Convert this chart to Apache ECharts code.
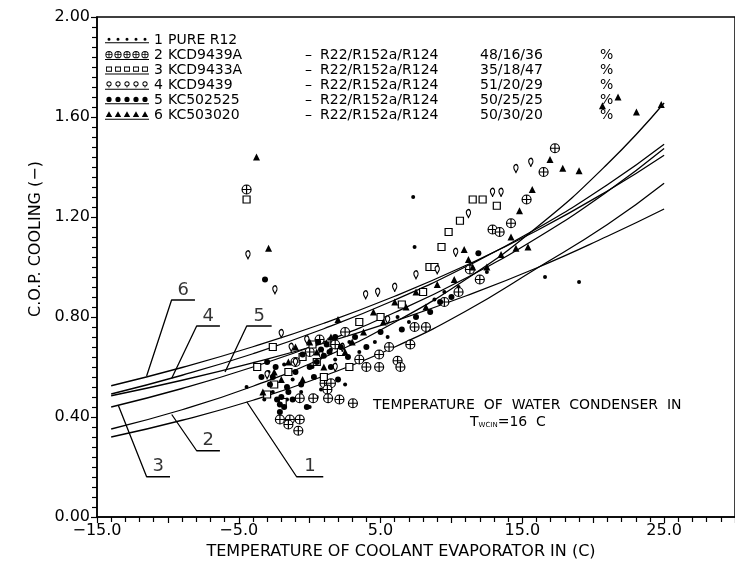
<!DOCTYPE html>
<html>
<head>
<meta charset="utf-8">
<script src="https://cdn.jsdelivr.net/npm/echarts@6/dist/echarts.min.js"></script>
<style>html,body{margin:0;background:#fff}#main{width:735px;height:568px}</style>
</head>
<body>
<div id="main"></div>
<script>
var myChart = echarts.init(document.getElementById('main'));

// fitted curves, read at these evaporator temperatures
var fitT = [-14, -9, -4, 1, 6, 11, 16, 21, 25];
var fit6 = [0.525, 0.598, 0.681, 0.775, 0.883, 1.006, 1.145, 1.304, 1.447];
var fit4 = [0.492, 0.567, 0.653, 0.753, 0.868, 1.001, 1.153, 1.329, 1.491];
var fit5 = [0.485, 0.547, 0.617, 0.695, 0.784, 0.884, 0.996, 1.123, 1.232];
var fit3 = [0.440, 0.514, 0.600, 0.700, 0.818, 0.955, 1.115, 1.302, 1.474];
var fit2 = [0.352, 0.429, 0.523, 0.638, 0.779, 0.950, 1.158, 1.412, 1.656];
var fit1 = [0.320, 0.387, 0.467, 0.564, 0.680, 0.823, 0.994, 1.170, 1.335];

// measured points [t evaporator, cop]
var r12Pts = [[-4.45,0.52],[2.5,0.53],[7.3,1.28],[7.4,1.08],[16.6,0.96],[19.0,0.94],[0.0,0.44],[-2.6,0.5],[-1.2,0.55],[0.2,0.6],[1.8,0.63],[3.5,0.66],[5.5,0.72],[7.0,0.78],[8.8,0.87],[10.5,0.92],[-3.2,0.47],[0.8,0.51],[-1.8,0.61],[4.6,0.7],[12.5,0.98],[-0.6,0.5],[-2.9,0.58],[-1.6,0.47],[0.5,0.48],[1.5,0.67],[2.8,0.7],[6.2,0.8],[9.5,0.9]];
var kcd9439aPts = [[-4.45,1.31],[17.3,1.475],[16.5,1.38],[15.3,1.27],[14.2,1.175],[12.9,1.15],[13.4,1.14],[11.3,0.99],[8.2,0.76],[7.4,0.76],[7.1,0.69],[6.2,0.625],[6.4,0.6],[4.0,0.6],[4.9,0.6],[4.9,0.65],[5.6,0.68],[1.05,0.535],[1.5,0.535],[1.25,0.51],[-0.7,0.475],[0.25,0.475],[1.3,0.475],[2.1,0.47],[3.05,0.455],[-2.1,0.39],[-1.4,0.39],[-0.7,0.39],[-0.8,0.345],[-1.5,0.37],[1.5,0.7],[2.5,0.74],[0.0,0.66],[-1.0,0.62],[9.5,0.86],[10.5,0.9],[12.0,0.95],[0.7,0.71],[1.8,0.69],[3.5,0.63]];
var kcd9433aPts = [[-4.45,1.27],[11.5,1.27],[12.2,1.27],[13.2,1.245],[10.6,1.185],[9.8,1.14],[9.3,1.08],[8.45,1.0],[8.8,1.0],[3.5,0.78],[5.0,0.8],[6.5,0.85],[2.2,0.66],[0.5,0.62],[-1.5,0.58],[-2.5,0.53],[-3.0,0.49],[-0.5,0.64],[1.0,0.56],[-2.6,0.68],[-3.7,0.6],[0.2,0.69],[2.8,0.6],[8.0,0.9],[-1.9,0.46]];
var kcd9439Pts = [[-4.35,1.03],[-2.45,0.89],[14.55,1.375],[15.6,1.4],[12.9,1.28],[13.5,1.28],[11.2,1.195],[10.3,1.04],[3.95,0.87],[-2.0,0.715],[4.8,0.88],[6.0,0.9],[7.5,0.95],[9.0,0.97],[2.3,0.66],[0.8,0.63],[-1.0,0.6],[-3.0,0.55],[1.8,0.58],[5.5,0.77],[-0.2,0.69],[-1.3,0.66]];
var kc502525Pts = [[-3.15,0.95],[11.9,1.055],[-2.1,0.45],[-2.1,0.42],[-2.0,0.48],[-1.5,0.5],[-2.8,0.53],[-3.4,0.56],[-1.0,0.58],[0.5,0.62],[1.0,0.645],[0.8,0.67],[1.5,0.6],[2.7,0.64],[-0.2,0.44],[4.0,0.68],[6.5,0.75],[8.5,0.82],[10.0,0.88],[-1.6,0.52],[0.3,0.56],[1.2,0.69],[-2.4,0.6],[-0.6,0.53],[2.0,0.55],[-2.3,0.47],[-1.8,0.44],[-1.2,0.47],[-2.6,0.56],[-3.0,0.62],[0.0,0.6],[0.6,0.7],[1.4,0.66],[2.2,0.68],[1.8,0.72],[3.2,0.72],[-0.5,0.65],[5.0,0.74],[7.5,0.8],[9.2,0.86]];
var kc503020Pts = [[-3.75,1.44],[-2.9,1.075],[20.65,1.645],[21.75,1.68],[23.05,1.62],[24.8,1.65],[16.95,1.43],[17.85,1.395],[19.0,1.385],[15.7,1.31],[14.8,1.225],[14.2,1.12],[10.9,1.07],[11.2,1.03],[14.55,1.075],[15.4,1.08],[2.0,0.79],[4.5,0.82],[6.0,0.86],[7.5,0.9],[9.0,0.93],[12.5,1.0],[13.5,1.05],[5.2,0.78],[8.2,0.84],[-1.5,0.62],[0.5,0.66],[1.5,0.72],[-2.5,0.58],[3.0,0.7],[-0.5,0.55],[-2.0,0.55],[-1.0,0.68],[0.0,0.7],[1.0,0.6],[2.5,0.66],[3.8,0.74],[6.8,0.84],[10.2,0.95],[11.5,1.0],[-3.3,0.5]];

var refNames = ['PURE R12', 'KCD9439A', 'KCD9433A', 'KCD9439', 'KC502525', 'KC503020'];
var mixText = ['', 'R22/R152a/R124', 'R22/R152a/R124', 'R22/R152a/R124', 'R22/R152a/R124', 'R22/R152a/R124'];
var mixShare = ['', '48/16/36', '35/18/47', '51/20/29', '50/25/25', '50/30/20'];

// leader lines: [end on curve, elbow, end of underline], label number
var leaderNums = ['6', '4', '5', '3', '2', '1'];
var leaders = [
  [[-11.5, 0.564], [-9.74, 0.868], [-8.09, 0.868]],
  [[-9.73, 0.555], [-7.97, 0.764], [-6.33, 0.764]],
  [[-5.97, 0.58], [-4.44, 0.764], [-2.68, 0.764]],
  [[-13.5, 0.447], [-11.5, 0.161], [-9.85, 0.161]],
  [[-9.73, 0.41], [-7.97, 0.265], [-6.33, 0.265]],
  [[-4.44, 0.461], [-0.92, 0.161], [0.96, 0.161]]
];

var xTicks = [-15, -5, 5, 15, 25];

var FONT = 'DejaVu Sans';

function circ(cx, cy, r, rev) {
  var s = rev ? 0 : 1;
  return 'M' + (cx - r) + ',' + cy + 'A' + r + ',' + r + ',0,1,' + s + ',' + (cx + r) + ',' + cy +
    'A' + r + ',' + r + ',0,1,' + s + ',' + (cx - r) + ',' + cy + 'Z';
}
function box(x0, y0, x1, y1, rev) {
  return rev ? 'M' + x0 + ',' + y0 + 'L' + x0 + ',' + y1 + 'L' + x1 + ',' + y1 + 'L' + x1 + ',' + y0 + 'Z'
             : 'M' + x0 + ',' + y0 + 'L' + x1 + ',' + y0 + 'L' + x1 + ',' + y1 + 'L' + x0 + ',' + y1 + 'Z';
}
// legend swatch: a row of five markers over a base line
function rowIcon(kind) {
  var p = box(0, 9, 44, 9.9);
  for (var i = 0; i < 5; i++) {
    var cx = 4 + i * 9, cy = 4.6;
    if (kind === 'dot') p += circ(cx, cy + 1.5, 1.5);
    else if (kind === 'disc') p += circ(cx, cy + 0.6, 2.6);
    else if (kind === 'oplus') p += circ(cx, cy, 3.6) + circ(cx, cy, 2.7, true) + box(cx - 3, cy - 0.4, cx + 3, cy + 0.4) + box(cx - 0.4, cy - 3, cx + 0.4, cy + 3);
    else if (kind === 'square') p += box(cx - 3, cy - 2.6, cx + 3, cy + 2.6) + box(cx - 2.1, cy - 1.7, cx + 2.1, cy + 1.7, true);
    else if (kind === 'pin') p += circ(cx, cy - 0.6, 2.6) + circ(cx, cy - 0.6, 1.7, true) + 'M' + (cx - 0.6) + ',' + (cy + 1.8) + 'L' + (cx + 0.6) + ',' + (cy + 1.8) + 'L' + cx + ',' + (cy + 4) + 'Z';
    else if (kind === 'tri') p += 'M' + cx + ',' + (cy - 3) + 'L' + (cx + 3.2) + ',' + (cy + 2.6) + 'L' + (cx - 3.2) + ',' + (cy + 2.6) + 'Z';
  }
  return 'path://' + p;
}
var iconKinds = ['dot', 'oplus', 'square', 'pin', 'disc', 'tri'];

var oplus = 'path://M-1,0A1,1,0,1,1,1,0A1,1,0,1,1,-1,0ZM-1,0L1,0M0,-1L0,1';

var ptSets = [r12Pts, kcd9439aPts, kcd9433aPts, kcd9439Pts, kc502525Pts, kc503020Pts];
var symbols = ['circle', oplus, 'rect', 'pin', 'circle', 'triangle'];
var sizes = [4, 9, 7, [7, 10], 6, 7];
var hollow = [false, true, true, true, false, false];

var series = [];
ptSets.forEach(function (pts, i) {
  series.push({
    name: refNames[i],
    type: 'scatter',
    data: pts,
    symbol: symbols[i],
    symbolSize: sizes[i],
    itemStyle: hollow[i]
      ? { color: '#fff', borderColor: '#000', borderWidth: 1.2, opacity: 1 }
      : { color: '#000', borderWidth: 0, opacity: 1 },
    z: 3
  });
});

[fit1, fit2, fit3, fit4, fit5, fit6].forEach(function (ys) {
  series.push({
    type: 'line',
    data: fitT.map(function (t, k) { return [t, ys[k]]; }),
    smooth: 0.5,
    showSymbol: false,
    silent: true,
    lineStyle: { color: '#000', width: 1.3 },
    z: 2
  });
});

leaders.forEach(function (pts, i) {
  series.push({
    type: 'line',
    data: pts,
    showSymbol: false,
    silent: true,
    lineStyle: { color: '#000', width: 1.3 },
    z: 2
  });
});

series.push({
  type: 'scatter',
  silent: true,
  symbolSize: 0,
  data: leaders.map(function (pts, i) {
    return {
      value: [(pts[1][0] + pts[2][0]) / 2, pts[1][1]],
      label: { show: true, formatter: leaderNums[i] }
    };
  }),
  label: { position: 'top', distance: 1, color: '#000', fontSize: 18, fontFamily: FONT }
});

option = {
  animation: false,
  backgroundColor: '#fff',
  grid: {
    left: 97, right: -2, top: 17, bottom: 51,
    show: true, borderColor: '#000', borderWidth: 1.5, backgroundColor: 'transparent'
  },
  legend: {
    orient: 'vertical',
    left: 100, top: 28,
    itemWidth: 44, itemHeight: 10,
    itemGap: 0,
    selectedMode: false,
    itemStyle: { color: '#000', borderWidth: 0 },
    data: refNames.map(function (n, i) { return { name: n, icon: rowIcon(iconKinds[i]) }; }),
    formatter: function (name) {
      var i = refNames.indexOf(name);
      var s = '{n|' + (i + 1) + '}{m|' + name + '}';
      if (mixText[i]) s += '{d|\u2013}{r|' + mixText[i] + '}{c|' + mixShare[i] + '}{p|%}';
      return s;
    },
    textStyle: {
      color: '#000', fontFamily: FONT, fontSize: 14, lineHeight: 15,
      rich: {
        n: { width: 14, fontSize: 14, fontFamily: FONT },
        m: { width: 137, fontSize: 14, fontFamily: FONT },
        d: { width: 15, fontSize: 14, fontFamily: FONT },
        r: { width: 160, fontSize: 14, fontFamily: FONT },
        c: { width: 120, fontSize: 14, fontFamily: FONT },
        p: { fontSize: 14, fontFamily: FONT }
      }
    }
  },
  xAxis: {
    type: 'value',
    min: -15, max: 30, interval: 5,
    name: 'TEMPERATURE OF COOLANT EVAPORATOR IN (C)',
    nameLocation: 'middle',
    nameGap: 27,
    nameTextStyle: { color: '#000', fontSize: 16, fontFamily: FONT, padding: [0, 30, 0, 0] },
    axisLine: { onZero: false, lineStyle: { color: '#000', width: 1.5 } },
    axisTick: { show: true, length: 6, lineStyle: { color: '#000', width: 1.2 } },
    minorTick: { show: true, splitNumber: 5, length: 5, lineStyle: { color: '#000', width: 1.2 } },
    splitLine: { show: false },
    axisLabel: {
      color: '#000', fontSize: 16, fontFamily: FONT, margin: 6,
      showMaxLabel: false,
      formatter: function (v) {
        if (xTicks.indexOf(v) < 0) return '';
        return (v < 0 ? '\u2212' : '') + Math.abs(v).toFixed(1);
      }
    }
  },
  yAxis: {
    type: 'value',
    min: 0, max: 2, interval: 0.4,
    name: 'C.O.P. COOLING (\u2212)',
    nameLocation: 'middle',
    nameGap: 45,
    nameTextStyle: { color: '#000', fontSize: 16, fontFamily: FONT, padding: [0, 0, 0, 56] },
    axisLine: { onZero: false, lineStyle: { color: '#000', width: 1.5 } },
    axisTick: { show: true, length: 6, lineStyle: { color: '#000', width: 1.2 } },
    minorTick: { show: true, splitNumber: 10, length: 5, lineStyle: { color: '#000', width: 1.2 } },
    splitLine: { show: false },
    axisLabel: {
      color: '#000', fontSize: 16, fontFamily: FONT, margin: 7,
      formatter: function (v) { return v.toFixed(2); }
    }
  },
  graphic: [
    {
      type: 'text', left: 373, top: 398,
      style: { text: 'TEMPERATURE  OF  WATER  CONDENSER  IN', fill: '#000', font: '14px "DejaVu Sans"' }
    },
    {
      type: 'text', left: 470, top: 415,
      style: {
        text: '{t|T}{s|WCIN}{t|=16  C}',
        rich: {
          t: { fontSize: 14, fontFamily: FONT, fill: '#000' },
          s: { fontSize: 7, fontFamily: FONT, fill: '#000', padding: [6, 0, 0, 0] }
        }
      }
    }
  ],
  series: series
};

myChart.setOption(option);
</script>
</body>
</html>
